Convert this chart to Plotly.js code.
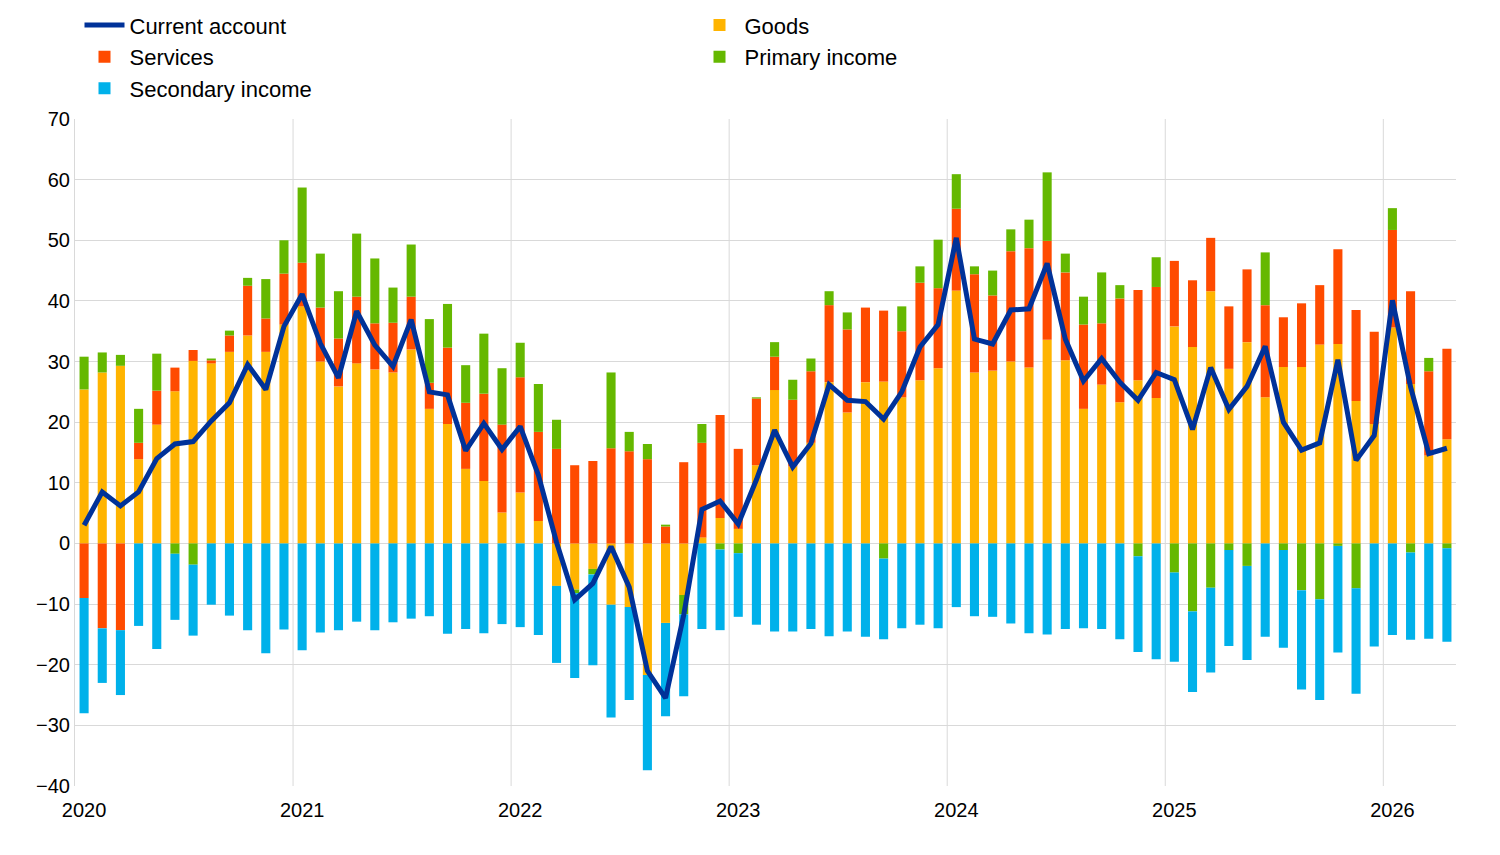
<!DOCTYPE html>
<html>
<head>
<meta charset="utf-8">
<script src="https://cdn.plot.ly/plotly-3.0.1.min.js"></script>
<style>
  body { margin: 0; background: #fff; }
  #chart { width: 1500px; height: 855px; }
</style>
</head>
<body>
<div id="chart"></div>
<script>
// monthly, Jan 2020 - Apr 2026
const goods = [
  25.4, 28.2, 29.3, 13.9, 19.6, 25.1, 30.1, 29.7, 31.6, 34.3, 31.6, 36.1,
  39.1, 30.0, 25.9, 29.7, 28.7, 28.2, 32.0, 22.2, 19.7, 12.3, 10.3, 5.1,
  8.4, 3.7, -7.0, -7.6, -4.2, -10.1, -10.5, -21.7, -13.1, -8.5, 1.0, 4.2,
  2.4, 12.9, 25.3, 12.7, 16.6, 26.6, 21.6, 26.6, 26.7, 24.1, 26.9, 28.9,
  41.7, 28.2, 28.5, 30.0, 29.0, 33.6, 30.2, 22.2, 26.2, 23.3, 26.9, 24.0,
  35.8, 32.4, 41.6, 28.8, 33.2, 24.1, 29.1, 29.1, 32.8, 32.9, 23.5, 19.7,
  35.6, 26.3, 14.5, 17.2,
];
const services = [
  -9.0, -14.0, -14.3, 2.7, 5.6, 3.9, 1.8, 0.5, 2.7, 8.2, 5.5, 8.4,
  7.2, 8.9, 7.9, 11.0, 7.6, 8.2, 8.7, 4.3, 12.6, 10.9, 14.4, 14.5,
  19.0, 14.7, 15.6, 12.9, 13.6, 15.7, 15.2, 13.9, 2.8, 13.4, 15.6, 17.0,
  13.2, 11.0, 5.5, 11.0, 11.8, 12.7, 13.7, 12.3, 11.7, 10.9, 16.1, 13.2,
  13.5, 16.2, 12.4, 18.2, 19.7, 16.3, 14.5, 13.9, 10.1, 17.1, 14.9, 18.3,
  10.8, 11.0, 8.8, 10.3, 12.0, 15.2, 8.2, 10.5, 9.8, 15.6, 15.0, 15.2,
  16.1, 15.3, 13.9, 14.9,
];
const primaryIncome = [
  5.4, 3.3, 1.8, 5.6, 6.1, -1.7, -3.5, 0.3, 0.8, 1.3, 6.5, 5.5,
  12.4, 8.9, 7.8, 10.4, 10.7, 5.8, 8.6, 10.5, 7.2, 6.2, 9.9, 9.3,
  5.7, 7.9, 4.8, -0.6, -0.9, 12.5, 3.2, 2.5, 0.3, -3.2, 3.1, -1.0,
  -1.6, 0.2, 2.4, 3.3, 2.1, 2.3, 2.8, 0.0, -2.5, 4.1, 2.7, 8.0,
  5.7, 1.3, 4.1, 3.6, 4.7, 11.3, 3.1, 4.6, 8.4, 2.2, -2.1, 4.9,
  -4.8, -11.2, -7.3, -1.1, -3.7, 8.7, -1.1, -7.7, -9.2, -0.4, -7.4, 0.0,
  3.6, -1.5, 2.2, -0.8,
];
const secondaryIncome = [
  -19.0, -9.0, -10.7, -13.6, -17.4, -10.9, -11.7, -10.1, -11.9, -14.3, -18.1, -14.2,
  -17.6, -14.7, -14.3, -12.9, -14.3, -13.0, -12.4, -12.0, -14.9, -14.1, -14.8, -13.3,
  -13.8, -15.1, -12.7, -14.0, -15.0, -18.6, -15.3, -15.7, -15.4, -13.5, -14.1, -13.3,
  -10.5, -13.4, -14.5, -14.5, -14.1, -15.3, -14.5, -15.4, -13.3, -14.0, -13.4, -14.0,
  -10.5, -12.0, -12.1, -13.2, -14.8, -15.0, -14.1, -14.0, -14.1, -15.8, -15.8, -19.1,
  -14.7, -13.3, -14.0, -15.8, -15.5, -15.4, -16.1, -16.4, -16.6, -17.6, -17.4, -17.0,
  -15.1, -14.4, -15.7, -15.4,
];
const currentAccount = [
  3.0, 8.5, 6.2, 8.5, 14.0, 16.4, 16.8, 20.2, 23.2, 29.5, 25.4, 35.8,
  41.1, 33.0, 27.3, 38.3, 32.7, 29.2, 36.9, 25.0, 24.5, 15.3, 19.8, 15.5,
  19.3, 11.3, 0.2, -9.3, -6.6, -0.5, -7.2, -21.0, -25.5, -11.8, 5.6, 7.0,
  3.2, 10.5, 18.7, 12.6, 16.5, 26.2, 23.6, 23.4, 20.5, 25.0, 32.4, 36.1,
  50.4, 33.7, 32.9, 38.5, 38.7, 46.2, 33.7, 26.8, 30.5, 26.6, 23.6, 28.2,
  27.0, 18.8, 29.0, 22.1, 25.9, 32.5, 20.0, 15.4, 16.6, 30.3, 13.7, 17.8,
  40.1, 25.8, 14.8, 15.7,
];
const yearLabels = ['2020', '2021', '2022', '2023', '2024', '2025', '2026'];

const months = goods.map((el, i) => i);
const yearTicks = yearLabels.map((el, i) => i * 12);

function barTrace(name, values, color) {
  return {
    type: 'bar',
    name: name,
    x: months,
    y: values,
    marker: { color: color, line: { width: 0 } },
    hoverinfo: 'y+name',
  };
}

const data = [
  {
    type: 'scatter',
    mode: 'lines',
    name: 'Current account',
    x: months,
    y: currentAccount,
    line: { color: '#003299', width: 5 },
  },
  barTrace('Goods', goods, '#FFB400'),
  barTrace('Services', services, '#FF4B00'),
  barTrace('Primary income', primaryIncome, '#65B800'),
  barTrace('Secondary income', secondaryIncome, '#00B1EA'),
];

// vertical grid between December and January
const yearLines = yearTicks.slice(1).map((t) => ({
  type: 'line',
  xref: 'x',
  yref: 'paper',
  x0: t - 0.5,
  x1: t - 0.5,
  y0: 0,
  y1: 1,
  line: { color: '#d9d9d9', width: 1 },
  layer: 'below',
}));

const layout = {
  width: 1500,
  height: 855,
  margin: { l: 75, r: 44, t: 119, b: 69, autoexpand: false },
  paper_bgcolor: '#fff',
  plot_bgcolor: '#fff',
  font: { family: 'Liberation Sans, Arial, sans-serif', size: 20, color: '#000' },
  barmode: 'relative',
  bargap: 0.5,
  showlegend: true,
  legend: {
    orientation: 'h',
    xref: 'container',
    yref: 'container',
    x: 0.053,
    y: 0.995,
    xanchor: 'left',
    yanchor: 'top',
    entrywidth: 560,
    entrywidthmode: 'pixels',
    traceorder: 'normal',
    font: { size: 22 },
    itemwidth: 40,
    tracegroupgap: 0,
    bgcolor: 'rgba(0,0,0,0)',
  },
  xaxis: {
    range: [-0.5, 75.5],
    tickmode: 'array',
    tickvals: yearTicks,
    ticktext: yearLabels,
    showgrid: false,
    zeroline: false,
    showline: false,
    ticks: '',
    ticklabelstandoff: 10,
    tickfont: { size: 20 },
  },
  yaxis: {
    range: [-40, 70],
    dtick: 10,
    tick0: 0,
    showgrid: true,
    gridcolor: '#d9d9d9',
    zeroline: false,
    showline: true,
    linecolor: '#d9d9d9',
    ticks: '',
    tickfont: { size: 20 },
  },
  shapes: yearLines,
};

Plotly.newPlot('chart', data, layout, { displayModeBar: false, staticPlot: true });
</script>
</body>
</html>
